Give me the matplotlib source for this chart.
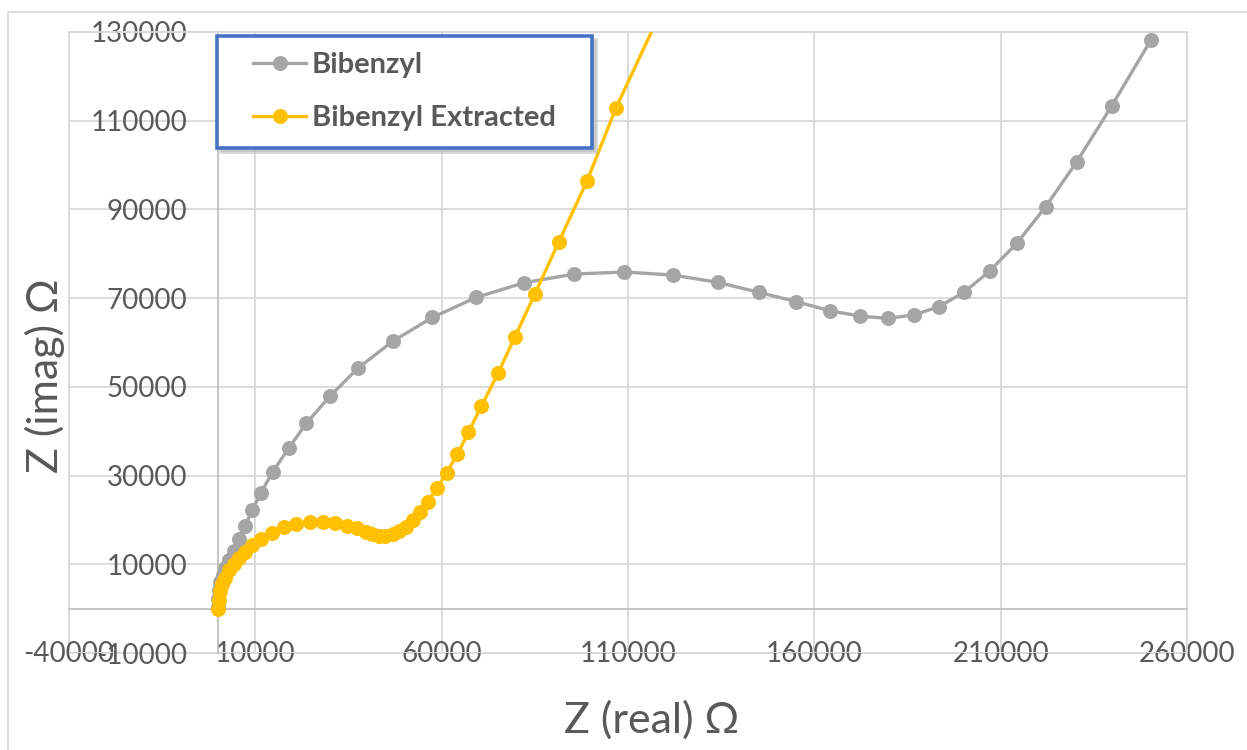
import matplotlib
matplotlib.use('Agg')
import matplotlib.pyplot as plt
from matplotlib.legend_handler import HandlerLine2D
from matplotlib.patches import Rectangle

plt.rcParams['font.family'] = ['Lato', 'DejaVu Sans']

series_names = ['Bibenzyl', 'Bibenzyl Extracted']

bib_x = [0, 80, 250, 600, 1200, 1960, 3000, 4290, 5660, 7240, 9180, 11510,
         14680, 18910, 23690, 30050, 37480, 46820, 57520, 69300, 82100, 95600,
         109000, 122140, 134160, 145210, 155190, 164210, 172260, 179660,
         186640, 193400, 200160, 207030, 214330, 222060, 230430, 239770, 250390]
bib_y = [300, 2200, 4200, 6000, 7600, 9080, 10950, 13060, 15620, 18620, 22230,
         26130, 30870, 36130, 41770, 47930, 54170, 60250, 65650, 70170, 73470,
         75430, 75900, 75200, 73550, 71300, 69200, 67150, 65950, 65440, 66190,
         68060, 71300, 76100, 82350, 90600, 100750, 113300, 128300]

ext_x = [0, 150, 480, 1000, 1960, 3000, 4290, 5660, 7240, 9180, 11510, 14460,
         17650, 21030, 24760, 28250, 31440, 34610, 37270, 39600, 41400, 43120,
         44910, 46820, 48620, 50410, 52320, 54250, 56260, 58700, 61330, 64200,
         67180, 70670, 75120, 79580, 85000, 91360, 99000, 106730, 121000]
ext_y = [0, 2000, 4000, 5500, 7000, 8600, 10000, 11340, 12830, 14300, 15620,
         16970, 18460, 19070, 19590, 19590, 19230, 18690, 18100, 17340, 16820,
         16430, 16430, 16750, 17490, 18460, 19970, 21850, 24100, 27120, 30640,
         34780, 39740, 45670, 53040, 61160, 70920, 82570, 96400, 112800, 138500]

x_ticks = [-40000, 10000, 60000, 110000, 160000, 210000, 260000]
y_ticks = [-10000, 10000, 30000, 50000, 70000, 90000, 110000, 130000]
x_label = 'Z (real) Ω'
y_label = 'Z (imag) Ω'

TXT = '#595959'
GRID = '#D9D9D9'
GRAY = '#A5A5A5'
YEL = '#FFC000'

W, H = 1247, 750
fig = plt.figure(figsize=(W / 100, H / 100), dpi=100)
L, R, T, B = 69, 1187, 32, 653
ax = fig.add_axes([L / W, 1 - B / H, (R - L) / W, (B - T) / H])

# outer chart border
fig.patches.append(Rectangle((8 / W, -0.1), 1.2, 1 - 12 / H + 0.1,
                             transform=fig.transFigure, fill=False,
                             edgecolor=GRID, linewidth=1.2))

ax.set_xlim(x_ticks[0], x_ticks[-1])
ax.set_ylim(y_ticks[0], y_ticks[-1])
ax.set_xticks(x_ticks)
ax.set_yticks(y_ticks)
ax.set_xticklabels([str(v) for v in x_ticks])
ax.set_yticklabels([str(v) for v in y_ticks])
ax.grid(True, color=GRID, linewidth=1.3, zorder=0)
ax.set_axisbelow(True)

for s in ['top', 'right']:
    ax.spines[s].set_color(GRID)
    ax.spines[s].set_linewidth(1.3)
ax.spines['left'].set_position(('data', 0))
ax.spines['bottom'].set_position(('data', 0))
ax.spines['left'].set_color('#BFBFBF')
ax.spines['bottom'].set_color('#BFBFBF')
ax.spines['left'].set_linewidth(1.3)
ax.spines['bottom'].set_linewidth(1.3)
ax.patch.set_edgecolor(GRID)
ax.patch.set_linewidth(1.3)

ax.tick_params(axis='both', length=0, labelsize=20, labelcolor=TXT)
ax.tick_params(axis='y', pad=22)
ax.tick_params(axis='x', pad=23)

l1, = ax.plot(bib_x, bib_y, color=GRAY, linewidth=2.4, marker='o',
              markersize=10.8, markeredgewidth=0, label=series_names[0], zorder=3)
l2, = ax.plot(ext_x, ext_y, color=YEL, linewidth=2.4, marker='o',
              markersize=10.8, markeredgewidth=0, label=series_names[1], zorder=4)

ax.set_xlabel(x_label, fontsize=31, color=TXT)
ax.xaxis.label.set_va('center')
ax.xaxis.set_label_coords((652 - L) / (R - L), (B - 720) / (B - T))
ax.set_ylabel(y_label, fontsize=31, color=TXT)
ax.yaxis.label.set_va('center')
ax.yaxis.set_label_coords((45 - L) / (R - L), (B - 376) / (B - T))

fs_px = 21 * 100 / 72
bp = 0.55
bp_px = bp * fs_px
line_start, line_end, text_start = 253, 306, 312
hl = HandlerLine2D(xpad=(line_start - 217 - bp_px) / fs_px)
leg = ax.legend(handles=[l1, l2], loc='upper left',
                bbox_to_anchor=(217 / W, 1 - 144 / H, (592 - 217) / W, (144 - 36) / H),
                bbox_transform=fig.transFigure, mode='expand', borderaxespad=0,
                prop={'weight': 'bold', 'size': 21}, labelcolor=TXT,
                handlelength=(line_end - 217 - bp_px) / fs_px,
                handletextpad=(text_start - line_end) / fs_px,
                borderpad=bp, labelspacing=0.94, fancybox=False,
                handler_map={l1: hl, l2: hl},
                shadow={'ox': 3, 'oy': -3, 'color': '#BBBBBB', 'alpha': 0.6})
fr = leg.get_frame()
fr.set_edgecolor('#4472C4')
fr.set_linewidth(2.6)
fr.set_facecolor('white')
fr.set_alpha(1)

fig.savefig('out.png', dpi=100)
